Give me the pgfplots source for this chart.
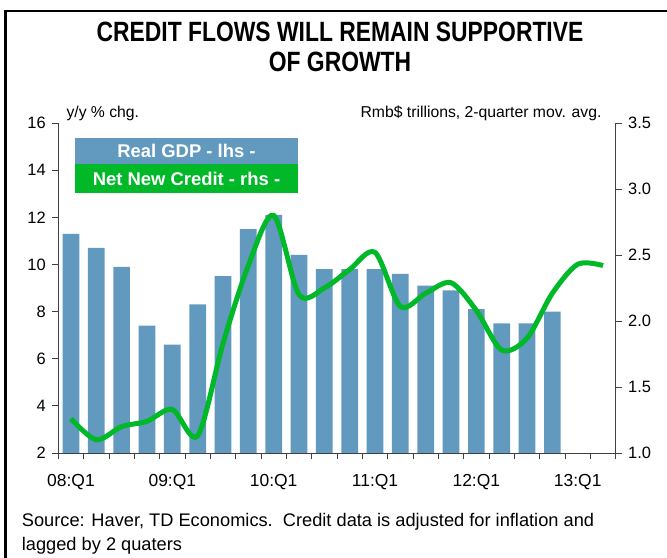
\documentclass[border=0pt]{standalone}
\usepackage{fontspec}
\setmainfont{Liberation Sans}
\usepackage{pgfplots}
\pgfplotsset{compat=1.18}
\usepackage{pgfplotstable}
\usepackage{graphicx}

\definecolor{gdpblue}{RGB}{98,153,190}
\definecolor{creditgreen}{RGB}{0,184,40}
\definecolor{axisgray}{RGB}{64,64,64}

% Real GDP, y/y % chg. (08:Q1 .. 12:Q4), bars centred at i+0.5
\pgfplotstableread{
idx gdp
0.5 11.3
1.5 10.7
2.5 9.9
3.5 7.4
4.5 6.6
5.5 8.3
6.5 9.5
7.5 11.5
8.5 12.1
9.5 10.4
10.5 9.8
11.5 9.8
12.5 9.8
13.5 9.6
14.5 9.1
15.5 8.9
16.5 8.1
17.5 7.5
18.5 7.5
19.5 8.0
}\gdptable

% Net new credit, Rmb$ trillions (08:Q1 .. 13:Q2)
\pgfplotstableread{
idx credit
0.5 1.26
1.5 1.10
2.5 1.20
3.5 1.24
4.5 1.33
5.5 1.13
6.5 1.83
7.5 2.42
8.5 2.80
9.5 2.20
10.5 2.25
11.5 2.39
12.5 2.52
13.5 2.11
14.5 2.21
15.5 2.29
16.5 2.08
17.5 1.78
18.5 1.87
19.5 2.21
20.5 2.43
21.5 2.42
}\credittable

\begin{document}
\begin{tikzpicture}
\useasboundingbox (0,0) rectangle (667bp,558bp);
\draw[line width=2.8bp] (5.5bp,0) -- (5.5bp,547bp) -- (667bp,547bp);

\node at (340bp,526bp) {\scalebox{0.82}[1]{\fontsize{28}{30}\selectfont\bfseries CREDIT FLOWS WILL REMAIN SUPPORTIVE}};
\node at (340bp,496bp) {\scalebox{0.82}[1]{\fontsize{28}{30}\selectfont\bfseries OF GROWTH}};

\begin{axis}[
  at={(58.3bp,105bp)}, anchor=south west,
  scale only axis, width=557.4bp, height=330bp,
  xmin=0, xmax=22, ymin=2, ymax=16,
  axis x line*=bottom, axis y line*=left,
  axis line style={axisgray, line width=0.8bp},
  every tick/.style={axisgray, line width=0.8bp},
  tick align=outside, major tick length=6bp,
  xtick={0,...,22},
  xticklabels={08:Q1,,,,09:Q1,,,,10:Q1,,,,11:Q1,,,,12:Q1,,,,13:Q1,,},
  xticklabel style={xshift=12.67bp, yshift=-12bp, font=\fontsize{17.5}{19}\selectfont},
  ytick={2,4,...,16},
  yticklabel style={xshift=-3bp, font=\fontsize{16.5}{18}\selectfont},
  /pgf/number format/assume math mode=true,
]
\addplot[ybar, bar width=16.7bp, fill=gdpblue, draw=none] table[x=idx, y=gdp] {\gdptable};
\end{axis}

\begin{axis}[
  at={(58.3bp,105bp)}, anchor=south west,
  scale only axis, width=557.4bp, height=330bp,
  xmin=0, xmax=22, ymin=1, ymax=3.5,
  axis x line=none, axis y line*=right,
  axis line style={axisgray, line width=0.8bp},
  every tick/.style={axisgray, line width=0.8bp},
  tick align=outside, major tick length=6bp,
  ytick={1,1.5,...,3.5},
  yticklabel style={xshift=3bp, font=\fontsize{16.5}{18}\selectfont,
    /pgf/number format/fixed, /pgf/number format/fixed zerofill, /pgf/number format/precision=1},
  /pgf/number format/assume math mode=true,
]
\addplot[smooth, creditgreen, line width=5bp] table[x=idx, y=credit] {\credittable};
\end{axis}

\node[anchor=west, font=\fontsize{15.8}{18}\selectfont] at (63bp,445bp) {y/y \% chg.};
\node[anchor=east, font=\fontsize{15.8}{18}\selectfont] at (605bp,445bp) {Rmb\$ trillions, 2-quarter mov. avg.};

\fill[gdpblue] (75bp,394bp) rectangle (298bp,420bp);
\fill[creditgreen] (75bp,365bp) rectangle (298bp,394bp);
\node[white, font=\fontsize{18.5}{20}\selectfont\bfseries] at (186.5bp,407bp) {Real GDP - lhs -};
\node[white, font=\fontsize{18.5}{20}\selectfont\bfseries] at (186.5bp,379.5bp) {Net New Credit - rhs -};

\node[anchor=base west, inner sep=0pt, font=\fontsize{18.3}{20}\selectfont] at (21.7bp,32bp) {Source: Haver, TD Economics.\ \ Credit data is adjusted for inflation and};
\node[anchor=base west, inner sep=0pt, font=\fontsize{18.3}{20}\selectfont] at (21.7bp,8bp) {lagged by 2 quaters};
\end{tikzpicture}
\end{document}
